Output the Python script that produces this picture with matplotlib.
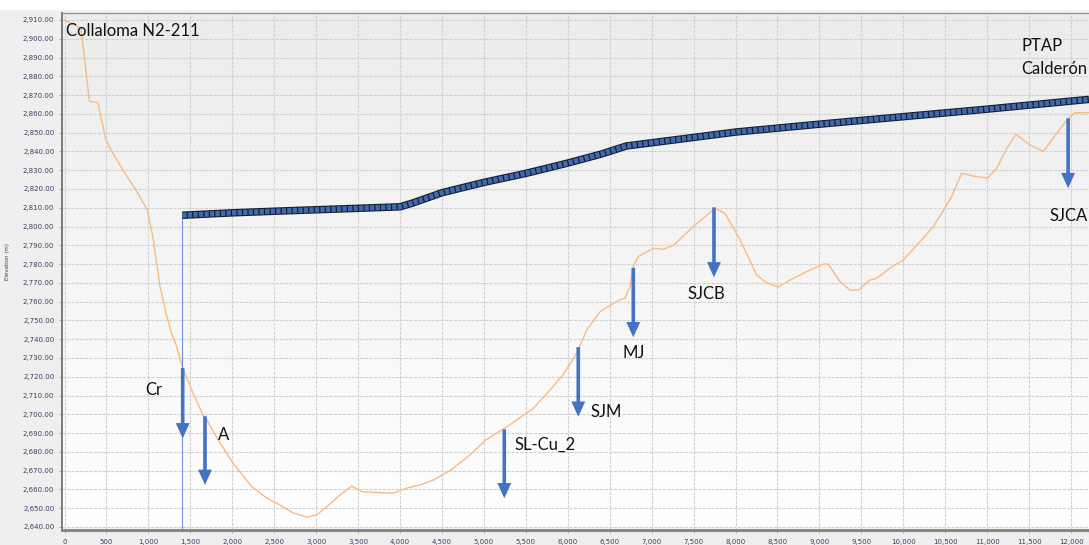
import numpy as np
import matplotlib
matplotlib.use("Agg")
from matplotlib import pyplot as plt
from matplotlib.colors import LinearSegmentedColormap
from matplotlib.patches import Rectangle
from matplotlib.ticker import FuncFormatter, MultipleLocator

# ground profile (distance m, elevation m)
ground_x = [0, 137, 197, 296, 396, 495, 563, 721, 852, 987, 1059, 1138, 1210,
            1278, 1338, 1409, 1516, 1651, 1695, 1854, 2009, 2232, 2411, 2569,
            2725, 2887, 3006, 3126, 3284, 3424, 3543, 3761, 3916, 4080, 4237,
            4397, 4596, 4834, 5013, 5153, 5252, 5391, 5585, 5749, 5943, 6107,
            6226, 6385, 6503, 6622, 6682, 6742, 6781, 6841, 7020, 7139, 7258,
            7497, 7656, 7755, 7874, 8053, 8252, 8371, 8510, 8649, 8848, 9046,
            9106, 9245, 9364, 9464, 9603, 9682, 9841, 10000, 10160, 10358,
            10477, 10577, 10696, 10835, 11001, 11113, 11233, 11344, 11511,
            11669, 11829, 11967, 12047, 12214]
ground_y = [2910, 2906.8, 2905.5, 2866.8, 2866, 2846, 2840, 2828.3, 2819.4,
            2808.8, 2793, 2768, 2754, 2743, 2736, 2724.6, 2713, 2699.6, 2697,
            2684.7, 2674, 2661.5, 2655.4, 2651.7, 2647.5, 2645.3, 2646.4,
            2650.8, 2657, 2661.8, 2658.8, 2658.3, 2658, 2660.7, 2662.4, 2665,
            2670, 2678.3, 2686, 2690, 2692.7, 2697, 2703, 2711, 2721, 2732.6,
            2745, 2754.6, 2758, 2761, 2761.8, 2768, 2778.6, 2784, 2788.4,
            2787.9, 2790, 2800, 2806, 2809.7, 2807, 2793, 2774.2, 2770,
            2767.8, 2771.5, 2776, 2780, 2780, 2770.6, 2766.2, 2766.2, 2771.5,
            2772.4, 2777.8, 2782.2, 2790, 2799.9, 2808.5, 2816, 2828.3,
            2826.9, 2825.7, 2831, 2841.6, 2849, 2843.4, 2840, 2849.6, 2857.6,
            2860.6, 2860.6]

# hydraulic grade line of the conduction
pipe_x = [1405, 2000, 2600, 3500, 4000, 4150, 4500, 5000, 5500, 6000, 6400,
          6700, 7300, 8000, 9000, 10000, 11000, 12000, 12214]
pipe_y = [2806, 2807.3, 2808.3, 2809.7, 2810.5, 2812.5, 2818, 2823.5, 2828.3,
          2833.8, 2838.6, 2842.9, 2846.3, 2850.3, 2854.5, 2858.5, 2862.5,
          2866.8, 2867.7]

# arrows marking the off-takes
tap_names = ["Cr", "A", "SL-Cu_2", "SJM", "MJ", "SJCB", "SJCA"]
tap_x = [1409, 1675, 5243, 6125, 6781, 7743, 11965]
tap_top = [2724.6, 2699, 2692, 2735.8, 2778, 2810.2, 2857.6]
tap_tip = [2687.2, 2662.4, 2655.3, 2698.7, 2741, 2772.9, 2820.4]

# where each name is written: (x, y, ha)
tap_text = {
    "Cr": (1059, 2713, "center"),
    "A": (1893, 2689, "center"),
    "SL-Cu_2": (5370, 2683.7, "left"),
    "SJM": (6270, 2701.4, "left"),
    "MJ": (6781, 2732.5, "center"),
    "SJCB": (7656, 2764, "center"),
    "SJCA": (11967, 2805.6, "center"),
}

X_MIN, X_MAX = -30, 12214
Y_MIN, Y_MAX = 2638.4, 2913.7
TICK_COLOR = "#3c3c64"
ARROW_COLOR = "#4472c4"
LABEL_FONT = ["Lato", "DejaVu Sans"]

fig = plt.figure(figsize=(10.89, 5.45), dpi=100, facecolor="#efefef")
fig.patches.append(Rectangle((0, 1 - 9 / 545), 1, 9 / 545,
                             transform=fig.transFigure, color="white",
                             zorder=0))
ax = fig.add_axes([62 / 1089, 15 / 545, 1 - 62 / 1089, 517 / 545])

# soft vertical gradient in the plotting area
grad = LinearSegmentedColormap.from_list("bg", ["#ffffff", "#ececec"])
ax.imshow(np.linspace(0, 1, 256)[:, None], extent=[X_MIN, X_MAX, Y_MIN, Y_MAX],
          origin="lower", aspect="auto", cmap=grad, zorder=0)

ax.plot(ground_x, ground_y, color="#f8bb82", lw=1.0, zorder=3)

ax.plot([pipe_x[0], pipe_x[0]], [pipe_y[0], Y_MIN], color="#7394d4", lw=0.8,
        zorder=3)
ax.plot(pipe_x, pipe_y, color="#141c28", lw=5.4, solid_capstyle="butt",
        zorder=4)
ax.plot(pipe_x, pipe_y, color="#4069b0", lw=3.9, linestyle=(0, (0.8, 0.22)),
        dash_capstyle="butt", zorder=5)

for name, x, y0, y1 in zip(tap_names, tap_x, tap_top, tap_tip):
    ax.annotate("", xy=(x, y1), xytext=(x, y0),
                arrowprops=dict(arrowstyle="simple,head_length=1.1,"
                                           "head_width=1.0,tail_width=0.26",
                                color=ARROW_COLOR, mutation_scale=10,
                                shrinkA=0, shrinkB=0, lw=0),
                zorder=6)
    tx, ty, ha = tap_text[name]
    ax.text(tx, ty, name, ha=ha, va="center", fontsize=12,
            family=LABEL_FONT, color="#111111", zorder=7)

ax.text(0.004, 0.965, "Collaloma N2-211", transform=ax.transAxes,
        ha="left", va="center", fontsize=12, family=LABEL_FONT,
        color="#111111", zorder=7)
ax.text(11412, 2890.2, "PTAP\nCalderón", ha="left", va="center",
        fontsize=12, family=LABEL_FONT, color="#111111",
        linespacing=1.55, zorder=7)

ax.set_xlim(X_MIN, X_MAX)
ax.set_ylim(Y_MIN, Y_MAX)

ax.xaxis.set_major_locator(MultipleLocator(500))
ax.xaxis.set_minor_locator(MultipleLocator(100))
ax.yaxis.set_major_locator(MultipleLocator(10))
ax.yaxis.set_minor_locator(MultipleLocator(5))
ax.xaxis.set_major_formatter(FuncFormatter(lambda v, p: f"{v:,.0f}"))
ax.yaxis.set_major_formatter(FuncFormatter(lambda v, p: f"{v:,.2f}"))
ax.tick_params(axis="both", which="major", labelsize=5, colors="#8a8a8a",
               labelcolor=TICK_COLOR, length=2.5, width=0.5)
ax.tick_params(axis="both", which="minor", colors="#b0b0b0", length=1.5,
               width=0.4)
ax.tick_params(axis="x", pad=4)
ax.tick_params(axis="y", pad=3)

ax.grid(True, which="major", color="#d2d2d2", lw=0.8,
        linestyle=(0, (3, 1)), zorder=1)
ax.set_axisbelow(True)

ax.spines["left"].set_color("#7a7a7a")
ax.spines["left"].set_linewidth(1.4)
ax.spines["bottom"].set_color("#888888")
ax.spines["bottom"].set_linewidth(2.2)
ax.spines["top"].set_color("#8a8a8a")
ax.spines["top"].set_linewidth(0.8)
ax.spines["right"].set_visible(False)

fig.text(8 / 1089, 0.52, "Elevation (m)", rotation=90, ha="center",
         va="center", fontsize=4, color=TICK_COLOR)

fig.savefig("out.png", dpi=100, facecolor=fig.get_facecolor())
